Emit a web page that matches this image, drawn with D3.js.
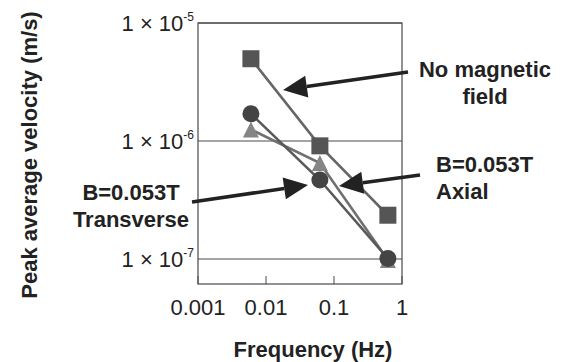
<!DOCTYPE html>
<html>
<head>
<meta charset="utf-8">
<script src="https://cdn.jsdelivr.net/npm/d3@7"></script>
<style>
  html, body { margin: 0; padding: 0; background: #fff; }
  svg { display: block; font-family: "Liberation Sans", Arial, sans-serif; }
</style>
</head>
<body>
<svg id="chart" width="563" height="362"></svg>
<script>
// ---- data ----
const frequencies = [0.006, 0.062, 0.62];
const noField = [4.98e-6, 9.1e-7, 2.35e-7];
const axial = [1.25e-6, 6.5e-7, 9.8e-8];
const transverse = [1.70e-6, 4.67e-7, 1.01e-7];
const seriesNames = ["No magnetic field", "B=0.053T Axial", "B=0.053T Transverse"];
const xTicks = [0.001, 0.01, 0.1, 1];
const xTickLabels = ["0.001", "0.01", "0.1", "1"];
const yTicks = [1e-5, 1e-6, 1e-7];
const yTickExps = ["-5", "-6", "-7"];

// ---- layout ----
const svg = d3.select("#chart");
const L = 198, R = 402, T = 23, B = 284;
const x = d3.scaleLog().domain([0.001, 1]).range([L, R]);
const y = d3.scaleLog().domain([6.14e-8, 1e-5]).range([B, T]);

const ink = "#222";
const frame = "#4a4a4a";

// gridlines
svg.append("g").selectAll("line").data(yTicks).join("line")
  .attr("x1", L).attr("x2", R)
  .attr("y1", d => y(d)).attr("y2", d => y(d))
  .attr("stroke", frame).attr("stroke-width", 1);

// frame
svg.append("rect").attr("x", L).attr("y", T).attr("width", R - L).attr("height", B - T)
  .attr("fill", "none").attr("stroke", frame).attr("stroke-width", 1.2);

// x ticks (inside, upward)
svg.append("g").selectAll("line").data(xTicks).join("line")
  .attr("x1", d => x(d)).attr("x2", d => x(d))
  .attr("y1", B).attr("y2", B - 8)
  .attr("stroke", frame).attr("stroke-width", 1);

// x tick labels
svg.append("g").selectAll("text").data(xTicks).join("text")
  .attr("x", d => x(d)).attr("y", 315)
  .attr("text-anchor", "middle")
  .attr("font-size", 22).attr("fill", ink)
  .text((d, i) => xTickLabels[i]);

// y tick labels
const yl = svg.append("g").selectAll("text").data(yTicks).join("text")
  .attr("x", 194).attr("y", d => y(d) + 8)
  .attr("text-anchor", "end")
  .attr("font-size", 22).attr("fill", ink);
yl.append("tspan").text("1 \u00D7 10");
yl.append("tspan").attr("font-size", 12).attr("dy", -10).text((d, i) => yTickExps[i]);

// axis titles
svg.append("text").attr("x", 313).attr("y", 357)
  .attr("text-anchor", "middle").attr("font-size", 22).attr("font-weight", "bold").attr("fill", ink)
  .text("Frequency (Hz)");
svg.append("text").attr("transform", "translate(37,155) rotate(-90)")
  .attr("text-anchor", "middle").attr("font-size", 22).attr("font-weight", "bold").attr("fill", ink)
  .text("Peak average velocity (m/s)");

// custom tall triangle symbol (16 wide, 16 tall, centred on its box)
const tallTriangle = {
  draw(ctx, size) {
    const h = Math.sqrt(size) / 2;
    ctx.moveTo(0, -h);
    ctx.lineTo(h, h);
    ctx.lineTo(-h, h);
    ctx.closePath();
  }
};

// series
const series = [
  { name: seriesNames[0], values: noField, symbol: d3.symbolSquare, size: 17 * 17, fill: "#555", line: "#666" },
  { name: seriesNames[1], values: axial, symbol: tallTriangle, size: 16 * 16, fill: "#858585", line: "#707070" },
  { name: seriesNames[2], values: transverse, symbol: d3.symbolCircle, size: Math.PI * 8.5 * 8.5, fill: "#444", line: "#5a5a5a" }
];
const lineGen = d3.line().x(d => x(d[0])).y(d => y(d[1]));
series.forEach(s => {
  svg.append("path")
    .datum(frequencies.map((f, i) => [f, s.values[i]]))
    .attr("d", lineGen).attr("fill", "none")
    .attr("stroke", s.line).attr("stroke-width", 2.6);
});
series.forEach(s => {
  svg.append("g").selectAll("path").data(frequencies.map((f, i) => [f, s.values[i]])).join("path")
    .attr("transform", d => `translate(${x(d[0])},${y(d[1])})`)
    .attr("d", d3.symbol().type(s.symbol).size(s.size))
    .attr("fill", s.fill);
});

// annotation arrows
function arrow(x1, y1, x2, y2) {
  const a = Math.atan2(y2 - y1, x2 - x1);
  const hl = 24, hw = 11;
  const bx = x2 - hl * Math.cos(a), by = y2 - hl * Math.sin(a);
  svg.append("line").attr("x1", x1).attr("y1", y1).attr("x2", bx).attr("y2", by)
    .attr("stroke", ink).attr("stroke-width", 3.5);
  const px = -Math.sin(a), py = Math.cos(a);
  svg.append("path")
    .attr("d", `M${x2},${y2}L${bx + px * hw},${by + py * hw}L${bx - px * hw},${by - py * hw}Z`)
    .attr("fill", ink);
}
arrow(408, 72, 283, 90);
arrow(420, 175, 339, 186);
arrow(192, 202, 308, 185);

// annotation labels
function label(lines, xx, yy, anchor) {
  const t = svg.append("text").attr("font-size", 22).attr("font-weight", "bold")
    .attr("fill", ink).attr("text-anchor", anchor);
  lines.forEach((ln, i) => {
    t.append("tspan").attr("x", xx).attr("y", yy + i * 26.5).text(ln);
  });
}
label(["No magnetic", "field"], 485, 77, "middle");
label(["B=0.053T", "Axial"], 436, 172, "start");
label(["B=0.053T", "Transverse"], 131, 200, "middle");
</script>
</body>
</html>
